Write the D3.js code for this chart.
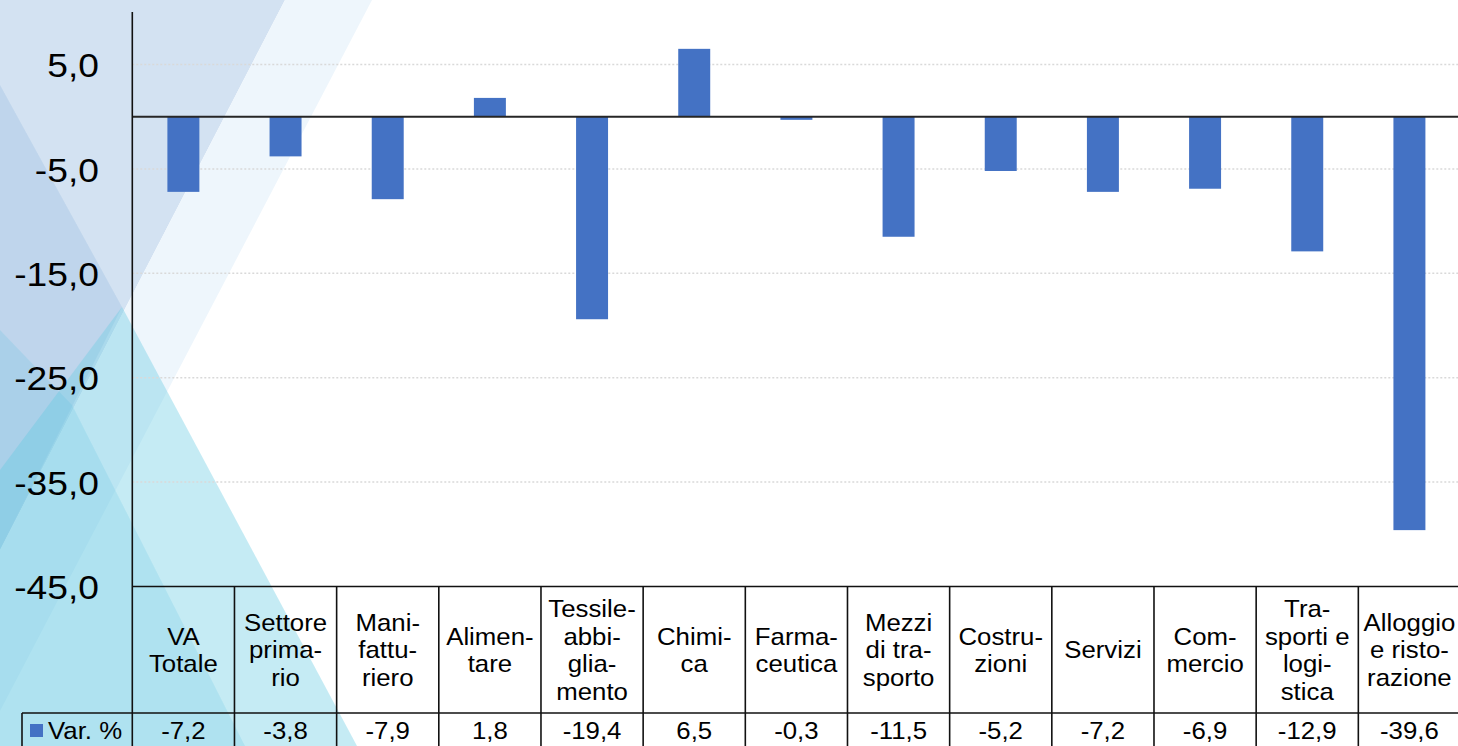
<!DOCTYPE html>
<html>
<head>
<meta charset="utf-8">
<script src="https://cdn.jsdelivr.net/npm/d3@7"></script>
<style>
  html, body { margin: 0; padding: 0; background: #ffffff; overflow: hidden; }
  svg { display: block; }
  text { font-family: "Liberation Sans", Arial, sans-serif; fill: #000; }
</style>
</head>
<body>
<svg id="chart" width="1458" height="746"></svg>
<script>
// Sector labels (line breaks as shown in the data table)
const categories = [
  "VA\nTotale", "Settore\nprima-\nrio", "Mani-\nfattu-\nriero", "Alimen-\ntare",
  "Tessile-\nabbi-\nglia-\nmento", "Chimi-\nca", "Farma-\nceutica", "Mezzi\ndi tra-\nsporto",
  "Costru-\nzioni", "Servizi", "Com-\nmercio", "Tra-\nsporti e\nlogi-\nstica",
  "Alloggio\ne risto-\nrazione"
];
// Variazione percentuale
const values = [-7.2, -3.8, -7.9, 1.8, -19.4, 6.5, -0.3, -11.5, -5.2, -7.2, -6.9, -12.9, -39.6];
const seriesName = "Var. %";
const yTicks = [5, -5, -15, -25, -35, -45];
const yDomain = [-45, 10];

const svg = d3.select("#chart");
const W = 1458, H = 746;

// ---- decorative background facets ----
const bg = svg.append("g");
const facets = [
  { pts: [[0,0],[285,0],[0,550]], fill: "#d3e2f2" },
  { pts: [[285,0],[372,0],[0,711],[0,550]], fill: "#eef6fc" },
  { pts: [[0,85],[122,307],[0,550]], fill: "rgba(80,140,200,0.15)" },
  { pts: [[122,307],[357,746],[0,746],[0,470]], fill: "rgba(110,205,228,0.40)" },
  { pts: [[72,405],[245,746],[0,746],[0,330]], fill: "rgba(80,190,220,0.18)" }
];
bg.selectAll("polygon").data(facets).join("polygon")
  .attr("points", d => d.pts.map(p => p.join(",")).join(" "))
  .attr("fill", d => d.fill);

// ---- scales ----
const x0 = 132.3, x1 = 1460.5;
const x = d3.scaleBand().domain(d3.range(categories.length)).range([x0, x1]).paddingInner(0).paddingOuter(0);
const y = d3.scaleLinear().domain(yDomain).range([586.5, 12.3]);
const barW = x.bandwidth() * 0.313;
const fmt = v => d3.format(".1f")(v).replace(".", ",").replace("−", "-");
const stretchTick = 1.095, stretchTbl = 1.075;

// gridlines
svg.append("g").selectAll("line").data(yTicks.filter(t => t !== -45)).join("line")
  .attr("x1", x0).attr("x2", x1)
  .attr("y1", d => y(d)).attr("y2", d => y(d))
  .attr("stroke", "#d9d9d9").attr("stroke-width", 1.5).attr("stroke-dasharray", "2,2");

// y axis with labels
const yAxis = d3.axisLeft(y).tickValues(yTicks).tickSize(0).tickPadding(0).tickFormat(fmt);
const ya = svg.append("g").attr("transform", `translate(${x0},0)`).call(yAxis);
ya.select(".domain").remove();
ya.selectAll("text")
  .attr("x", 0).attr("dy", "0.36em")
  .attr("transform", `translate(${99 - x0},0) scale(${stretchTick},1)`)
  .style("font-size", "34px").style("font-family", '"Liberation Sans", Arial, sans-serif')
  .attr("fill", "#000");

// bars
svg.append("g").selectAll("rect").data(values).join("rect")
  .attr("x", (d, i) => x(i) + (x.bandwidth() - barW) / 2)
  .attr("width", barW)
  .attr("y", d => y(Math.max(0, d)))
  .attr("height", d => Math.abs(y(d) - y(0)))
  .attr("fill", "#4472c4");

// zero line
svg.append("line").attr("x1", x0).attr("x2", x1).attr("y1", y(0)).attr("y2", y(0))
  .attr("stroke", "#262626").attr("stroke-width", 2);

// ---- data table ----
const rowTop = y(-45), rowMid = 713;
const lineColor = "#111";
const tbl = svg.append("g");
// vertical axis line / table left border
tbl.append("line").attr("x1", x0).attr("x2", x0).attr("y1", 12).attr("y2", H)
  .attr("stroke", lineColor).attr("stroke-width", 1.6);
// horizontal borders
tbl.append("line").attr("x1", x0).attr("x2", x1).attr("y1", rowTop).attr("y2", rowTop)
  .attr("stroke", lineColor).attr("stroke-width", 1.6);
tbl.append("line").attr("x1", 22).attr("x2", x1).attr("y1", rowMid).attr("y2", rowMid)
  .attr("stroke", lineColor).attr("stroke-width", 1.6);
tbl.append("line").attr("x1", 22).attr("x2", 22).attr("y1", rowMid).attr("y2", H)
  .attr("stroke", lineColor).attr("stroke-width", 1.6);
// column separators
tbl.selectAll("line.col").data(d3.range(1, categories.length + 1)).join("line")
  .attr("class", "col")
  .attr("x1", i => x0 + i * x.bandwidth()).attr("x2", i => x0 + i * x.bandwidth())
  .attr("y1", rowTop).attr("y2", H)
  .attr("stroke", lineColor).attr("stroke-width", 1.6);

// category labels (slightly widened glyphs)
const lh = 27.6;
const catG = tbl.selectAll("text.cat").data(categories).join("text")
  .attr("class", "cat")
  .attr("text-anchor", "middle")
  .attr("transform", (d, i) => `translate(${x(i) + x.bandwidth() / 2},0) scale(${stretchTbl},1)`)
  .style("font-size", "24px");
catG.each(function(d) {
  const lines = d.split("\n");
  const cy = (rowTop + rowMid) / 2;
  const start = cy - (lines.length - 1) * lh / 2;
  d3.select(this).selectAll("tspan").data(lines).join("tspan")
    .attr("x", 0)
    .attr("y", (l, k) => start + k * lh)
    .attr("dy", "0.36em")
    .text(l => l);
});

// value row
tbl.selectAll("text.val").data(values).join("text")
  .attr("class", "val")
  .attr("transform", (d, i) => `translate(${x(i) + x.bandwidth() / 2},0) scale(${stretchTbl},1)`)
  .attr("x", 0)
  .attr("y", 730).attr("dy", "0.36em")
  .attr("text-anchor", "middle")
  .style("font-size", "24px")
  .text(d => fmt(d));

// legend key + series name
tbl.append("rect").attr("x", 30).attr("y", 724).attr("width", 13).attr("height", 13).attr("fill", "#4472c4");
tbl.append("text").attr("transform", `translate(48,0) scale(${stretchTbl},1)`)
  .attr("x", 0).attr("y", 730).attr("dy", "0.36em")
  .style("font-size", "24px").text(seriesName);
</script>
</body>
</html>
